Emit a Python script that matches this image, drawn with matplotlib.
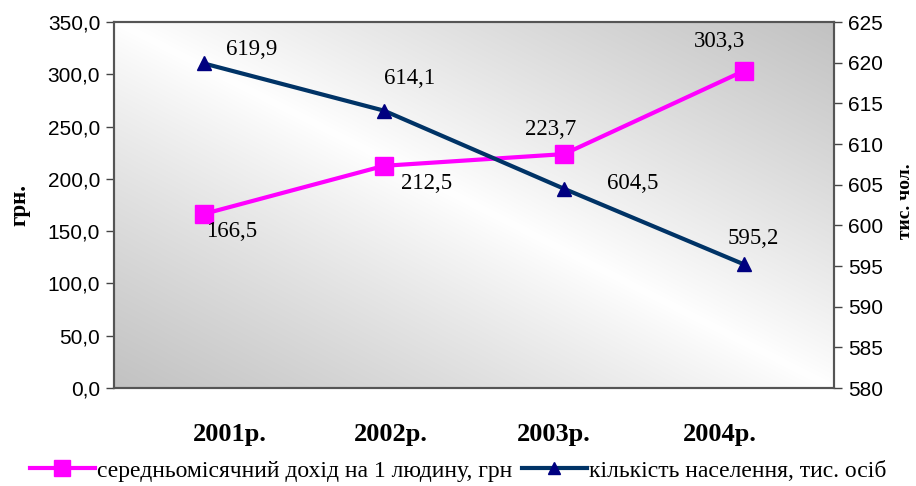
import numpy as np
import matplotlib
matplotlib.use("Agg")
import matplotlib.pyplot as plt
import matplotlib.transforms as mtransforms
from matplotlib.lines import Line2D

categories = ["2001р.", "2002р.", "2003р.", "2004р."]
income = [166.5, 212.5, 223.7, 303.3]
population = [619.9, 614.1, 604.5, 595.2]
income_labels = ["166,5", "212,5", "223,7", "303,3"]
population_labels = ["619,9", "614,1", "604,5", "595,2"]
left_ticks = [0, 50, 100, 150, 200, 250, 300, 350]
right_ticks = [580, 585, 590, 595, 600, 605, 610, 615, 620, 625]
legend_income = "середньомісячний дохід на 1 людину, грн"
legend_pop = "кількість населення, тис. осіб"

serif = "Liberation Serif"
sans = "Liberation Sans"

fig = plt.figure(figsize=(9.16, 4.86), dpi=100)
ax = fig.add_axes([0.1245, 0.2016, 0.786, 0.7531])
ax2 = ax.twinx()

# gradient background
n = 200
u = np.linspace(0, 1, n)
U, V = np.meshgrid(u, u)  # V: 0 bottom -> 1 top
d = np.abs(U + V - 1.0)
gray = 1.0 - 0.24 * np.clip(d, 0, 1) ** 0.9
img = np.dstack([gray, gray, gray])
ax.imshow(img, extent=[0, 1, 0, 1], transform=ax.transAxes, origin="lower",
          aspect="auto", zorder=0, interpolation="bilinear")

x = np.arange(len(categories))
ax.plot(x, income, color="#FF00FF", lw=3, marker="s", ms=13, mfc="#FF00FF",
        mec="#FF00FF", zorder=3)
ax2.plot(x, population, color="#003366", lw=3, marker="^", ms=9.5, mfc="#000080",
         mec="#000080", zorder=3)

ax.set_xlim(-0.5, 3.5)
ax.set_ylim(0, 350)
ax2.set_ylim(580, 625)
ax.set_yticks(left_ticks)
ax.set_yticklabels([f"{t:.1f}".replace(".", ",") for t in left_ticks],
                   fontfamily=sans, fontsize=15)
ax2.set_yticks(right_ticks)
ax2.set_yticklabels([str(t) for t in right_ticks], fontfamily=sans, fontsize=15)
ax.set_xticks(x)
ax.set_xticklabels(categories, fontfamily=serif, fontsize=19, fontweight="bold")
ax.tick_params(axis="x", length=0, pad=25)
ax.tick_params(axis="y", length=6, width=1, color="#444444", pad=4)
ax2.tick_params(axis="y", length=6, width=1, color="#444444", pad=4)

# category labels are shifted in the reference
cat_shift_px = [26, 7, -10, -24]
for lab, dx in zip(ax.get_xticklabels(), cat_shift_px):
    lab.set_transform(lab.get_transform() +
                      mtransforms.ScaledTranslation(dx / 100, 0, fig.dpi_scale_trans))

for a in (ax, ax2):
    for s in a.spines.values():
        s.set_color("#555555")
        s.set_linewidth(1.5)

fig.text(20 / 916, 1 - 205 / 486, "грн.", fontfamily=serif, fontsize=16.5,
         fontweight="bold", rotation=90, ha="center", va="center")
fig.text(905 / 916, 1 - 201 / 486, "тис. чол.", fontfamily=serif, fontsize=14,
         fontweight="bold", rotation=90, ha="center", va="center")

inc_off = [(1.5, -13), (12, -13), (-9.5, 18), (-18, 21)]
inc_ha = ["left", "left", "center", "center"]
pop_off = [(16, 10), (0, 23), (31, 3.6), (6.5, 19)]
pop_ha = ["left", "left", "left", "center"]
for i in range(4):
    ax.annotate(income_labels[i], (x[i], income[i]), textcoords="offset points",
                xytext=inc_off[i], ha=inc_ha[i], va="center",
                fontfamily=serif, fontsize=16.5, zorder=5)
    ax2.annotate(population_labels[i], (x[i], population[i]), textcoords="offset points",
                 xytext=pop_off[i], ha=pop_ha[i], va="center",
                 fontfamily=serif, fontsize=16.5, zorder=5)

handles = [
    Line2D([], [], color="#FF00FF", lw=3, marker="s", ms=12, mfc="#FF00FF", mec="#FF00FF"),
    Line2D([], [], color="#003366", lw=3, marker="^", ms=9, mfc="#000080", mec="#000080"),
]
fig.legend(handles, [legend_income, legend_pop], loc="center", bbox_to_anchor=(0.5, 0.031),
           ncol=2, frameon=False, prop={"family": serif, "size": 17},
           handlelength=2.75, handletextpad=0.1, columnspacing=0.4)

fig.savefig("out.png", dpi=100)
